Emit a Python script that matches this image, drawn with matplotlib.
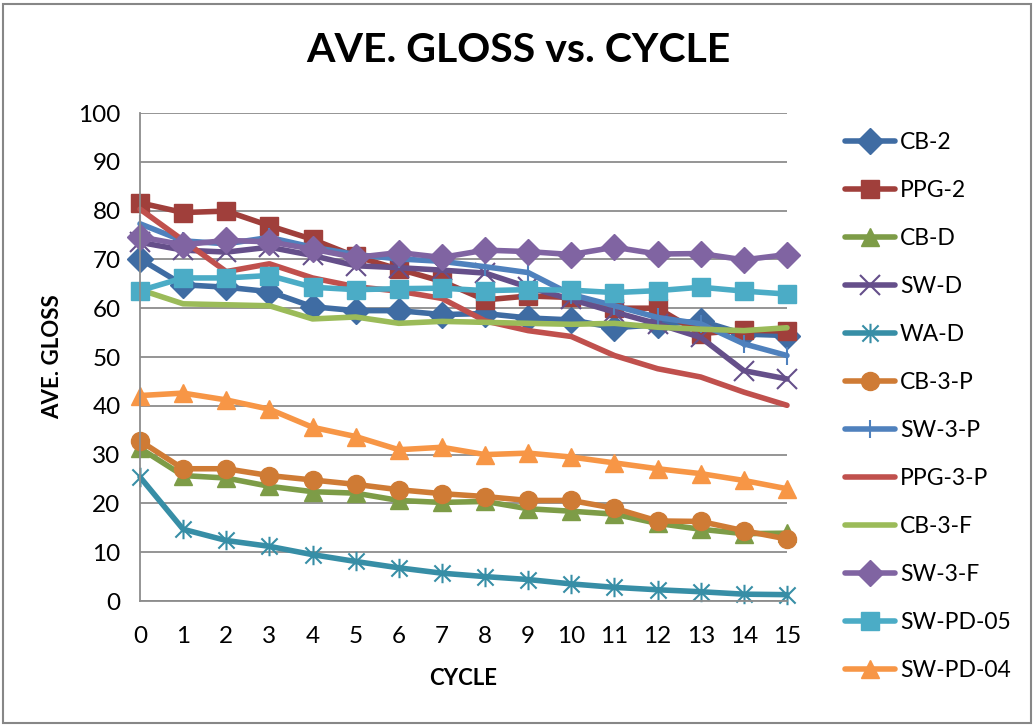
import numpy as np
import matplotlib
matplotlib.use("Agg")
import matplotlib.pyplot as plt
from matplotlib.path import Path
from matplotlib.patches import Rectangle

plt.rcParams['font.family'] = ['Lato', 'DejaVu Sans']

# ---- data: average gloss per cycle ----
cycles = list(range(16))

cb_2      = [70.1, 64.8, 64.3, 63.4, 60.3, 59.5, 59.5, 58.7, 58.9, 58.0, 57.6, 56.0, 56.6, 57.4, 54.7, 54.4]
ppg_2     = [81.6, 79.6, 79.9, 76.9, 74.1, 70.6, 68.0, 65.5, 61.7, 62.5, 62.2, 60.0, 60.0, 54.8, 55.5, 55.3]
cb_d      = [31.3, 25.7, 25.2, 23.5, 22.4, 22.1, 20.6, 20.2, 20.4, 18.9, 18.4, 17.8, 15.9, 14.7, 13.8, 13.9]
sw_d      = [73.5, 71.9, 71.5, 72.5, 70.8, 68.7, 68.3, 67.8, 67.2, 64.3, 61.8, 59.2, 56.8, 54.0, 47.2, 45.5]
wa_d      = [25.4, 14.7, 12.4, 11.2, 9.5, 8.1, 6.8, 5.7, 5.0, 4.4, 3.5, 2.8, 2.3, 1.9, 1.4, 1.3]
cb_3_p    = [32.8, 27.1, 27.1, 25.7, 24.8, 23.9, 22.8, 22.0, 21.4, 20.6, 20.6, 19.0, 16.4, 16.3, 14.4, 12.7]
sw_3_p    = [77.3, 73.8, 73.2, 74.5, 72.5, 71.0, 70.1, 69.6, 68.5, 67.3, 62.8, 60.5, 58.1, 56.8, 52.7, 50.3]
ppg_3_p   = [80.3, 73.9, 67.5, 69.1, 66.2, 64.4, 63.5, 62.0, 57.4, 55.4, 54.2, 50.3, 47.6, 45.9, 42.8, 40.1]
cb_3_f    = [63.8, 60.9, 60.7, 60.5, 57.8, 58.2, 56.9, 57.3, 57.1, 56.9, 56.7, 56.9, 56.1, 55.7, 55.4, 56.0]
sw_3_f    = [74.6, 73.0, 73.9, 73.6, 72.1, 70.4, 71.4, 70.4, 71.9, 71.6, 71.0, 72.5, 71.1, 71.2, 69.9, 71.0]
sw_pd_05  = [63.6, 66.2, 66.2, 66.7, 64.3, 63.8, 64.0, 64.1, 63.6, 63.8, 63.7, 63.2, 63.6, 64.3, 63.5, 62.9]
sw_pd_04  = [42.1, 42.6, 41.2, 39.3, 35.6, 33.7, 31.0, 31.5, 30.0, 30.3, 29.5, 28.3, 27.1, 26.1, 24.7, 23.0]

names = ['CB-2', 'PPG-2', 'CB-D', 'SW-D', 'WA-D', 'CB-3-P',
         'SW-3-P', 'PPG-3-P', 'CB-3-F', 'SW-3-F', 'SW-PD-05', 'SW-PD-04']

# asterisk = x with a vertical bar
star = Path([(-1, -1), (1, 1), (-1, 1), (1, -1), (0, -1.2), (0, 1.2)],
            [Path.MOVETO, Path.LINETO, Path.MOVETO, Path.LINETO, Path.MOVETO, Path.LINETO])

# (values, colour, marker, marker size, marker edge width)
series = [
    (cb_2,     '#3f6ca3', 'D', 13, 1),
    (ppg_2,    '#a03f3b', 's', 13, 1),
    (cb_d,     '#7d9c47', '^', 13, 1),
    (sw_d,     '#654f8a', 'x', 14, 1.5),
    (wa_d,     '#378ea6', star, 14, 1.5),
    (cb_3_p,   '#cf7b35', 'o', 13, 1),
    (sw_3_p,   '#4f81bd', '|', 13, 1.5),
    (ppg_3_p,  '#c0504d', None, 0, 0),
    (cb_3_f,   '#9bbb59', None, 0, 0),
    (sw_3_f,   '#8064a2', 'D', 13, 1),
    (sw_pd_05, '#4bacc6', 's', 13, 1),
    (sw_pd_04, '#f79646', '^', 13, 1),
]

fig = plt.figure(figsize=(10.35, 7.27), dpi=100)
ax = fig.add_axes([140/1035, 1 - 601/727, (787 - 140)/1035, (601 - 113)/727])

for name, (vals, col, mk, ms, mew) in zip(names, series):
    ax.plot(cycles, vals, color=col, lw=4, marker=mk, ms=ms,
            mfc=col, mec=col, mew=mew, label=name, solid_capstyle='round',
            clip_on=False)

grid_col = '#8c8c8c'
ax.set_xlim(0, 15)
ax.set_ylim(0, 100)
ax.set_xticks(cycles)
ax.set_yticks(np.arange(0, 101, 10))
ax.yaxis.grid(True, color=grid_col, lw=1.3)
ax.set_axisbelow(True)
for side in ['top', 'right']:
    ax.spines[side].set_visible(False)
for side in ['left', 'bottom']:
    ax.spines[side].set_color(grid_col)
    ax.spines[side].set_linewidth(1.3)
ax.tick_params(axis='y', length=0, pad=14, labelsize=17.5)
ax.tick_params(axis='x', length=0, pad=18, labelsize=17.5)

ax.set_xlabel('CYCLE', fontsize=16, fontweight='bold', labelpad=15)
ax.set_ylabel('AVE. GLOSS', fontsize=16, fontweight='bold', labelpad=11)
fig.text(518/1035, 1 - 50/727, 'AVE. GLOSS vs. CYCLE', ha='center', va='center',
         fontsize=29.5, fontweight='bold')

ax.legend(loc='upper left', bbox_to_anchor=(845/1035, 1 - 132/727),
          bbox_transform=fig.transFigure, frameon=False, fontsize=16.5,
          handlelength=2.2, handletextpad=0.2, labelspacing=1.18,
          borderpad=0, borderaxespad=0)

# chart border
fig.patches.append(Rectangle((3/1035, 4/727), 1028/1035, 719/727, transform=fig.transFigure,
                             fill=False, edgecolor='#878787', lw=1.5))

fig.savefig('out.png', dpi=100)
